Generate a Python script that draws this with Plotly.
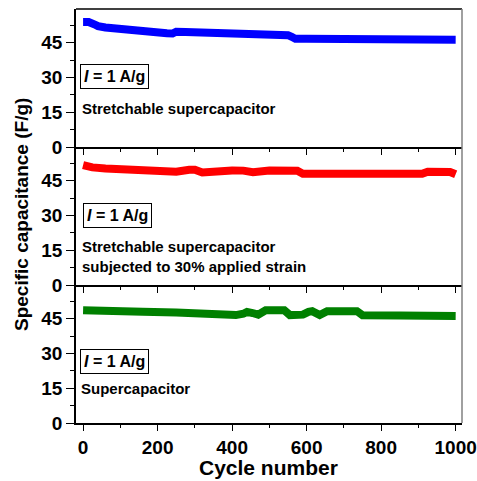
import plotly.graph_objects as go

# ---- data ----
cyc_blue = [0, 15, 30, 40, 60, 80, 100, 125, 150, 175, 200, 225, 240, 250, 275, 300, 350, 400,
            450, 500, 550, 560, 570, 600, 650, 700, 750, 800, 850, 875, 900, 925, 950, 975, 1000]
cap_blue = [54.0, 54.0, 53.0, 52.2, 51.6, 51.2, 50.9, 50.5, 50.1, 49.7, 49.4, 49.1, 49.0, 49.8, 49.7,
            49.6, 49.3, 49.0, 48.7, 48.3, 48.3, 47.6, 46.7, 46.7, 46.7, 46.7, 46.6, 46.4, 46.0, 46.0,
            46.3, 46.6, 46.5, 46.4, 46.3]

cyc_red = [0, 8, 25, 60, 115, 180, 250, 285, 300, 320, 335, 365, 400, 430, 456, 500, 550, 575,
           590, 650, 700, 750, 800, 850, 910, 925, 960, 985, 1000]
cap_red = [51.8, 51.2, 50.8, 50.3, 49.8, 49.1, 48.9, 49.8, 49.8, 48.6, 48.8, 49.6, 49.5, 49.4, 48.7,
           49.4, 49.3, 49.3, 48.0, 47.9, 47.9, 47.9, 47.9, 48.0, 48.0, 48.9, 48.9, 48.8, 47.8]

cyc_green = [0, 100, 160, 250, 340, 410, 430, 440, 455, 470, 490, 540, 555, 590, 605, 615, 635,
             655, 735, 750, 850, 1000]
cap_green = [48.7, 48.7, 48.0, 47.7, 46.8, 46.6, 47.2, 48.0, 47.5, 46.8, 48.7, 48.7, 46.6, 46.8,
             48.0, 48.3, 46.6, 48.3, 48.3, 46.5, 46.4, 46.2]

x_ticks = [0, 200, 400, 600, 800, 1000]
y_ticks = [0, 15, 30, 45]

panel_labels = ["Stretchable supercapacitor",
                "Stretchable supercapacitor<br>subjected to 30% applied strain",
                "Supercapacitor"]
current_label = "<b><i>I</i> = 1 A/g</b>"

FONT = "Liberation Sans, Arial, sans-serif"

fig = go.Figure()
series = [(cyc_blue, cap_blue, "#0000ff", "x", "y"),
          (cyc_red, cap_red, "#ff0000", "x2", "y2"),
          (cyc_green, cap_green, "#008000", "x3", "y3")]
for cx, cy, col, xa, ya in series:
    fig.add_trace(go.Scatter(x=cx, y=cy, mode="lines", line=dict(color=col, width=8),
                             xaxis=xa, yaxis=ya, showlegend=False))

domains = [[2/3, 1.0], [1/3, 2/3], [0.0, 1/3]]
tickfont = dict(family=FONT, size=19, color="black", weight="bold")
layout = dict(width=477, height=481, margin=dict(l=76, r=15, t=9, b=58, autoexpand=False),
              paper_bgcolor="white", plot_bgcolor="white", font=dict(family=FONT, color="black"))
for i in range(3):
    s = "" if i == 0 else str(i + 1)
    layout["xaxis" + s] = dict(domain=[0, 1], anchor="y" + s, range=[-19, 1017], automargin=False,
                               tickvals=x_ticks, ticks="outside", ticklen=6, tickwidth=1.2,
                               tickcolor="black", showline=True, linecolor="black", linewidth=1.5,
                               showgrid=False, zeroline=False, showticklabels=(i == 2),
                               tickfont=tickfont,
                               minor=dict(dtick=100, tick0=0, ticks="outside", ticklen=3,
                                          tickwidth=1, tickcolor="black", showgrid=False))
    layout["yaxis" + s] = dict(domain=domains[i], anchor="x" + s, range=[0, 59.6], automargin=False,
                               tickvals=y_ticks, ticks="outside", ticklen=8, tickwidth=1.2,
                               tickcolor="black", showline=True, linecolor="black", linewidth=1.5,
                               showgrid=False, zeroline=False, tickfont=tickfont,
                               minor=dict(dtick=7.5, tick0=0, ticks="outside", ticklen=4,
                                          tickwidth=1, tickcolor="black", showgrid=False))
fig.update_layout(**layout)

# frame: top line black, right line grey
fig.add_shape(type="line", xref="paper", yref="paper", x0=0, x1=1, y0=1, y1=1,
              line=dict(color="black", width=1.5))
fig.add_shape(type="line", xref="paper", yref="paper", x0=1, x1=1, y0=0, y1=1,
              line=dict(color="#808080", width=1.5))

# annotations (pixel positions converted to paper coords)
W, H = 386, 414
def px(xp):
    return (xp - 76) / W
def py(yp):
    return (423 - yp) / H

box_pos = [(114, 76.5), (117, 215), (114, 361)]
for (bx, by) in box_pos:
    fig.add_annotation(xref="paper", yref="paper", x=px(bx), y=py(by), text=current_label,
                       showarrow=False, font=dict(family=FONT, size=16, color="black"),
                       bordercolor="black", borderwidth=1, borderpad=3, xanchor="center",
                       yanchor="middle")

text_pos = [(80, 109), (80, 256), (79, 388)]
for lab, (tx, ty) in zip(panel_labels, text_pos):
    fig.add_annotation(xref="paper", yref="paper", x=px(tx), y=py(ty), text="<b>" + lab + "</b>",
                       showarrow=False, font=dict(family=FONT, size=15, color="black"),
                       xanchor="left", yanchor="middle", align="left")

fig.add_annotation(xref="paper", yref="paper", x=px(268), y=py(467), text="<b>Cycle number</b>",
                   showarrow=False, font=dict(family=FONT, size=21, color="black"),
                   xanchor="center", yanchor="middle")
fig.add_annotation(xref="paper", yref="paper", x=px(21), y=py(215),
                   text="<b>Specific capacitance (F/g)</b>", textangle=-90,
                   showarrow=False, font=dict(family=FONT, size=19, color="black"),
                   xanchor="center", yanchor="middle")

fig.write_html("out.html")
